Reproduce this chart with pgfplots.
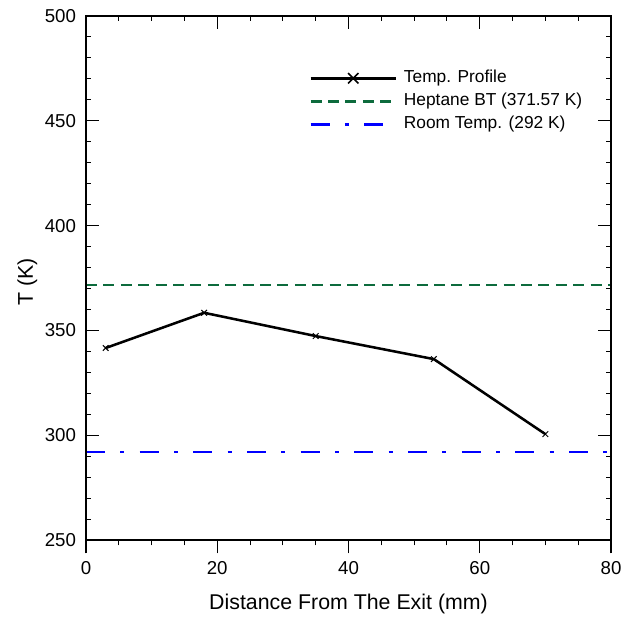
\documentclass[border=0pt]{standalone}
\usepackage{pgfplots}
\pgfplotsset{compat=1.18}
\usepackage{fontspec}
\setmainfont{Liberation Sans}
\definecolor{dgreen}{rgb}{0.05,0.42,0.24}
\pgfplotsset{
  bigxlegend/.style={legend image code/.code={\draw[##1, mark=none] (0pt,0pt) -- (64pt,0pt);
    \draw[##1, mark size=5.5pt, mark options={line width=1.2pt}] plot coordinates {(32pt,0pt)};}},
  linelegend/.style={legend image code/.code={\draw[##1] (0pt,0pt) -- (64pt,0pt);}},
  common/.style={
    width=393.75pt, height=393pt, scale only axis,
    xmin=0, xmax=80, ymin=250, ymax=500,
    axis line style={line width=1.2pt},
    every tick/.style={black, line width=0.8pt},
    major tick length=10pt, minor tick length=4pt,
    xtick={0,20,40,60,80}, minor x tick num=3,
    /pgf/number format/assume math mode=true,
  }
}
\begin{document}
\begin{tikzpicture}
\begin{axis}[common, clip=false,
  ytick={250,300,...,500}, minor y tick num=4,
  tick align=inside,
  xtick pos=right, xticklabel pos=left, ytick pos=both, yticklabel pos=left,
  ticklabel style={font=\fontsize{14}{16}\selectfont},
  xticklabel style={yshift=-12.5pt},
  yticklabel style={xshift=-4pt},
  xlabel={Distance From The Exit (mm)}, ylabel={T (K)},
  label style={font=\fontsize{16}{19}\selectfont},
  xlabel style={at={(axis description cs:0.5,-0.1317)}, anchor=base},
  ylabel style={at={(axis description cs:-0.101,0.492)}, anchor=base},
  legend style={draw=none, fill=none, inner sep=0pt, at={(0.425,0.902)}, anchor=north west,
    font=\fontsize{13}{15}\selectfont, row sep=1.3pt,
    nodes={text height=9pt, text depth=3pt, inner sep=2pt},
    /tikz/every odd column/.append style={column sep=3pt}},
  legend cell align=left,
  linelegend,
]
\path (rel axis cs:-0.1638,-0.1450) rectangle (rel axis cs:1.04,1.0305);
\addplot[black, line width=1.9pt, mark=x, mark size=3pt,
  mark options={line width=0.75pt, solid}, bigxlegend]
  coordinates {(3,341.6) (18,358.4) (35,347.3) (53,336.3) (70,300.5)};
\addlegendentry{Temp. Profile}
\addplot[dgreen, line width=1.8pt, dash pattern=on 8.25pt off 4.8pt]
  coordinates {(0,371.57) (80,371.57)};
\addlegendentry{Heptane BT (371.57 K)}
\addplot[blue, line width=1.8pt, dash pattern=on 14.25pt off 11.5pt on 3pt off 11.5pt]
  coordinates {(0,292) (80,292)};
\addlegendentry{Room Temp. (292 K)}
\end{axis}
\begin{axis}[common,
  ytick=\empty, tick align=outside,
  xtick pos=left, xticklabels={},
]
\end{axis}
\end{tikzpicture}
\end{document}
